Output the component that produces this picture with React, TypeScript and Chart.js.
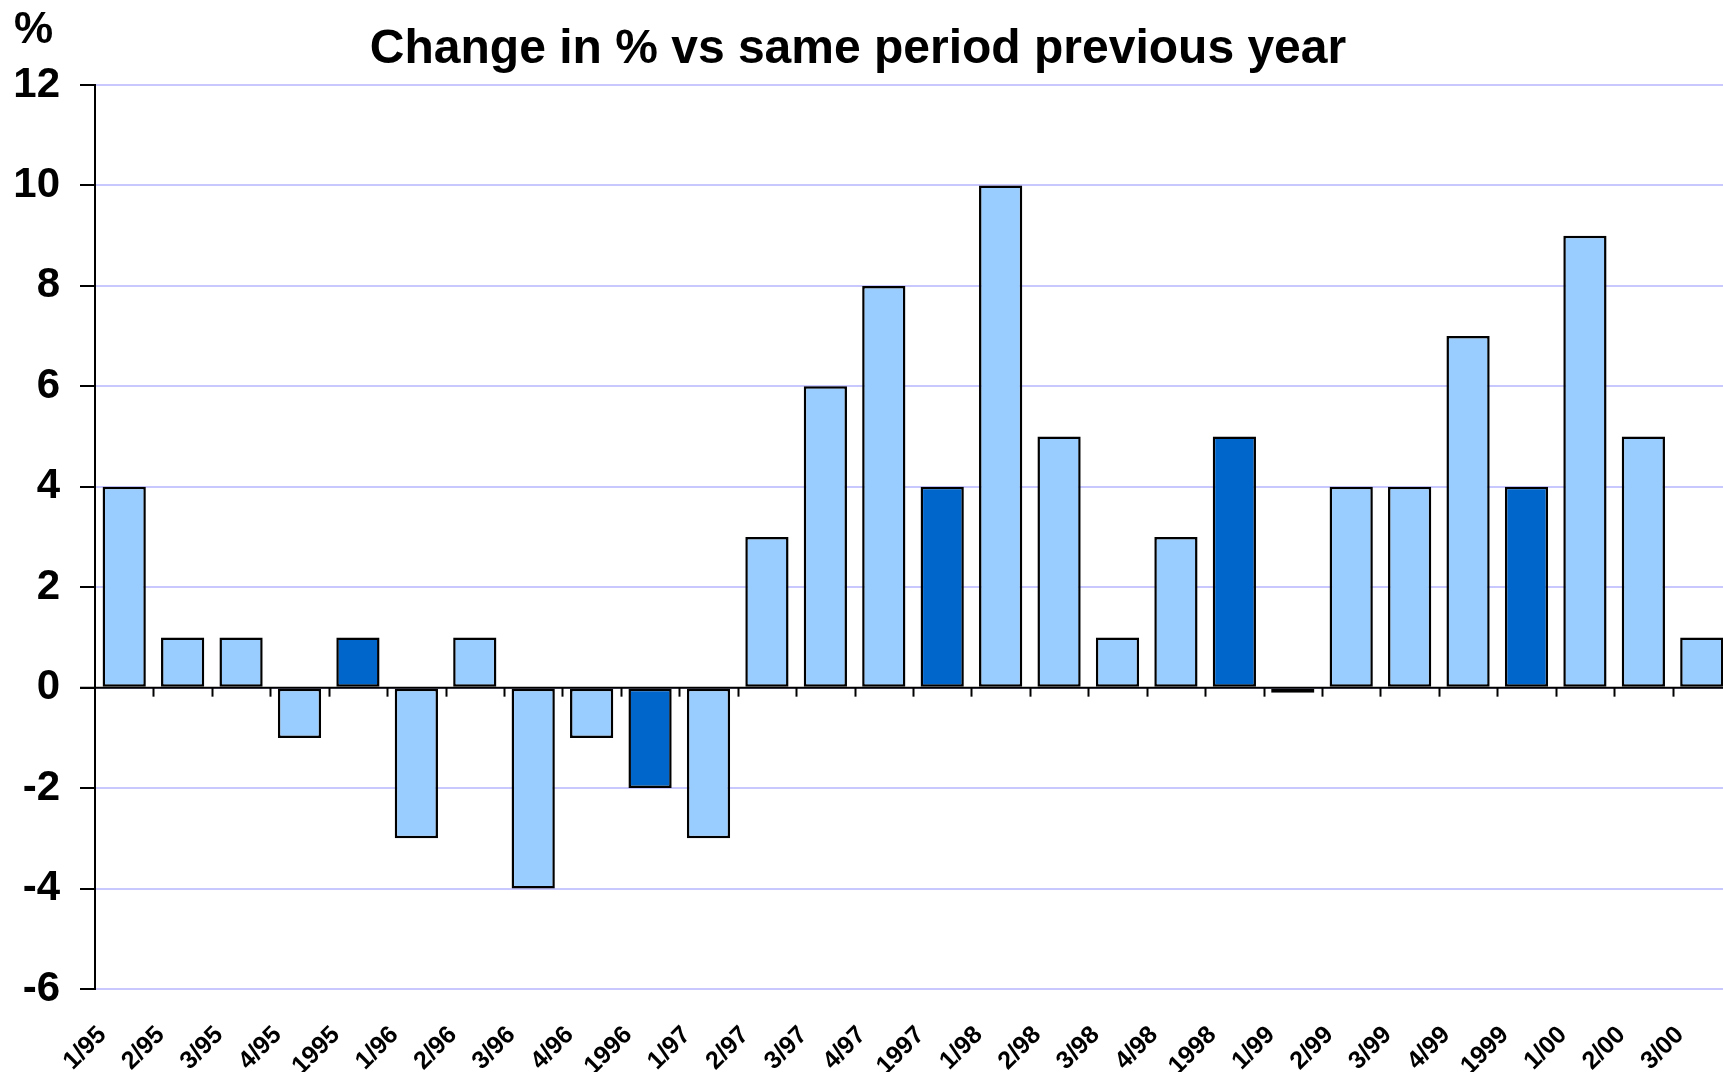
import React, { useEffect, useRef } from "react";
import { Chart, registerables } from "chart.js";

Chart.register(...registerables);

const categories = [
  "1/95", "2/95", "3/95", "4/95", "1995",
  "1/96", "2/96", "3/96", "4/96", "1996",
  "1/97", "2/97", "3/97", "4/97", "1997",
  "1/98", "2/98", "3/98", "4/98", "1998",
  "1/99", "2/99", "3/99", "4/99", "1999",
  "1/00", "2/00", "3/00",
];
const values = [
  4, 1, 1, -1, 1,
  -3, 1, -4, -1, -2,
  -3, 3, 6, 8, 4,
  10, 5, 1, 3, 5,
  -0.1, 4, 4, 7, 4,
  9, 5, 1,
];
const yTicks = [-6, -4, -2, 0, 2, 4, 6, 8, 10, 12];
const titleText = "Change in % vs same period previous year";
const unitText = "%";

const QUARTER_COLOR = "#99ccff";
const YEAR_COLOR = "#0066cc";
const FONT = "'Liberation Sans', Arial, sans-serif";

export default function App() {
  const ref = useRef<HTMLCanvasElement | null>(null);

  useEffect(() => {
    const canvas = ref.current;
    if (!canvas) return;

    const overlay = {
      id: "overlay",
      afterDatasetsDraw(chart: any) {
        const ctx = chart.ctx;
        const area = chart.chartArea;
        const y = chart.scales.y;
        const y0 = y.getPixelForValue(0);
        ctx.save();
        ctx.strokeStyle = "#000";
        ctx.lineWidth = 2;
        ctx.beginPath();
        ctx.moveTo(area.left - 15, y0);
        ctx.lineTo(area.right, y0);
        ctx.stroke();
        const step = (area.right - area.left) / categories.length;
        for (let i = 1; i <= categories.length; i++) {
          const tx = Math.round(area.left + i * step) + 0.5;
          ctx.beginPath();
          ctx.moveTo(tx, y0);
          ctx.lineTo(tx, y0 + 9);
          ctx.stroke();
        }
        ctx.restore();
      },
      afterDraw(chart: any) {
        const ctx = chart.ctx;
        const x = chart.scales.x;
        ctx.save();
        ctx.fillStyle = "#000";
        ctx.font = `bold 48px ${FONT}`;
        ctx.textAlign = "center";
        ctx.textBaseline = "alphabetic";
        ctx.fillText(titleText, 858, 63);
        ctx.font = `bold 44px ${FONT}`;
        ctx.textAlign = "left";
        ctx.fillText(unitText, 14, 43);
        ctx.font = `bold 25px ${FONT}`;
        ctx.textAlign = "right";
        categories.forEach((c, i) => {
          const px = x.getPixelForValue(i) - 17;
          ctx.save();
          ctx.translate(px, 1036);
          ctx.rotate(-Math.PI / 4);
          ctx.fillText(c, 0, 0);
          ctx.restore();
        });
        ctx.restore();
      },
    };

    const chart = new Chart(canvas, {
      type: "bar",
      data: {
        labels: categories,
        datasets: [
          {
            data: values,
            backgroundColor: categories.map((c) => (c.includes("/") ? QUARTER_COLOR : YEAR_COLOR)),
            borderColor: "#000",
            borderWidth: 2.5,
            borderSkipped: false,
            barPercentage: 0.74,
            categoryPercentage: 1,
          },
        ],
      },
      options: {
        responsive: false,
        animation: false,
        devicePixelRatio: 1,
        layout: { padding: { top: 85, bottom: 83, left: 0, right: 14 } },
        plugins: {
          legend: { display: false },
          title: { display: false },
          tooltip: { enabled: false },
        },
        scales: {
          x: {
            display: false,
            offset: true,
            grid: { display: false },
          },
          y: {
            min: -6,
            max: 12,
            afterFit(scale: any) {
              scale.width = 95;
            },
            afterBuildTicks(scale: any) {
              scale.ticks = yTicks.map((v) => ({ value: v }));
            },
            border: { display: true, color: "#000", width: 2 },
            grid: {
              color: "#c8c8ff",
              lineWidth: 2,
              drawTicks: true,
              tickLength: 15,
              tickColor: "#000",
              tickWidth: 2,
            },
            ticks: {
              color: "#000",
              padding: 20,
              font: { family: FONT, size: 42, weight: "bold" },
            },
          },
        },
      },
      plugins: [overlay],
    });

    return () => chart.destroy();
  }, []);

  return (
    <div
      style={{
        position: "fixed",
        left: 0,
        top: 0,
        width: "100vw",
        height: "100vh",
        overflow: "hidden",
        background: "#fff",
      }}
    >
      <canvas ref={ref} width={1745} height={1072} style={{ display: "block" }} />
    </div>
  );
}
